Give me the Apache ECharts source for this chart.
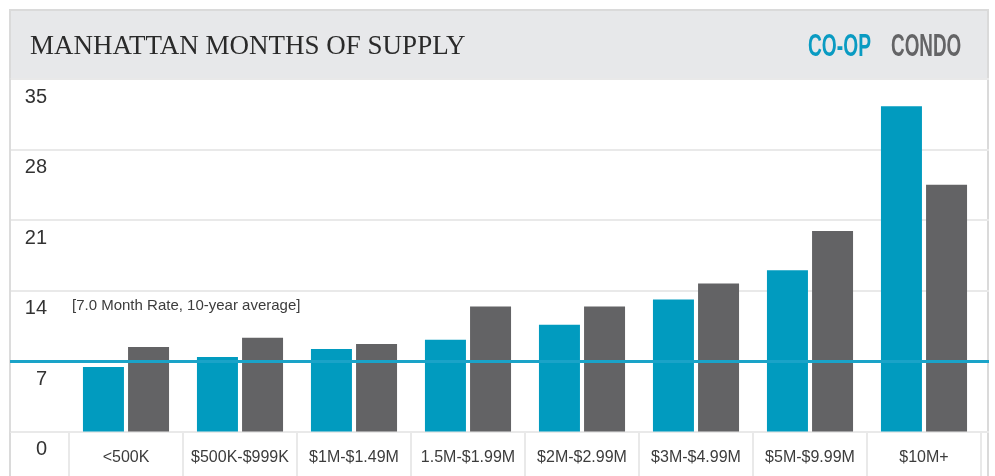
<!DOCTYPE html>
<html>
<head>
<meta charset="utf-8">
<script src="https://cdn.jsdelivr.net/npm/echarts@6/dist/echarts.min.js"></script>
<style>
  html, body { margin: 0; padding: 0; background: #ffffff; }
  #chart { width: 995px; height: 476px; }
</style>
</head>
<body>
<div id="chart"></div>
<script>
// price bands and months of supply
const PRICE_BANDS = ["<500K", "$500K-$999K", "$1M-$1.49M", "1.5M-$1.99M", "$2M-$2.99M", "$3M-$4.99M", "$5M-$9.99M", "$10M+"];
const COOP_MONTHS = [6.4, 7.4, 8.2, 9.1, 10.6, 13.1, 16.0, 32.3];
const CONDO_MONTHS = [8.4, 9.3, 8.7, 12.4, 12.4, 14.7, 19.9, 24.5];
const TEN_YEAR_AVG = 7.0;
const Y_TICKS = [0, 7, 14, 21, 28, 35];

const BLUE = "#019bbf";
const GREY = "#636365";
const LINE = "#e9e9e9";
const FONT = "'Liberation Sans', Arial, sans-serif";

const chart = echarts.init(document.getElementById("chart"));

chart.setOption({
  animation: false,
  backgroundColor: "#ffffff",
  grid: [
    // full-width grid: y labels, gridlines, average line
    { left: 10, right: 6, top: 79, bottom: 44.5 },
    // bar grid, starts right of the y labels
    { left: 69, right: 14, top: 79, bottom: 44.5 }
  ],
  xAxis: [
    { gridIndex: 0, type: "value", min: 0, max: 1, show: false },
    {
      gridIndex: 1,
      type: "category",
      data: PRICE_BANDS,
      axisLine: { show: false },
      axisTick: { show: true, length: 46, lineStyle: { color: LINE, width: 2 } },
      axisLabel: { color: "#3c3c3c", fontSize: 16, fontFamily: FONT, margin: 18, interval: 0 }
    }
  ],
  yAxis: [
    {
      gridIndex: 0,
      type: "value",
      min: Y_TICKS[0],
      max: Y_TICKS[Y_TICKS.length - 1],
      interval: 7,
      axisLine: { show: true, lineStyle: { color: "#dcdcdc", width: 2 } },
      axisTick: { show: false },
      splitLine: { show: true, lineStyle: { color: LINE, width: 2 } },
      axisLabel: {
        inside: true,
        align: "right",
        verticalAlign: "top",
        margin: 37,
        padding: [8, 0, 0, 0],
        color: "#333333",
        fontSize: 20,
        fontFamily: FONT,
        formatter: (v) => (v === 0 ? "{z|0}" : String(v)),
        rich: { z: { fontSize: 20, fontFamily: FONT, color: "#333333", padding: [0, 0, 8, 0] } }
      }
    },
    { gridIndex: 1, type: "value", min: 0, max: 35, show: false }
  ],
  graphic: [
    { type: "rect", z: -10, shape: { x: 10, y: 10, width: 979, height: 69 }, style: { fill: "#e7e8ea" } },
    { type: "rect", z: -5, shape: { x: 10, y: 10, width: 978, height: 480 }, style: { fill: null, stroke: "#dadada", lineWidth: 2 } },
    {
      type: "text", x: 30, y: 47,
      style: { text: "MANHATTAN MONTHS OF SUPPLY", fill: "#2a2a2a", fontSize: 27, fontFamily: "'Liberation Serif', 'Times New Roman', serif", textVerticalAlign: "middle" }
    },
    {
      type: "text", x: 808, y: 47, scaleX: 0.6,
      style: { text: "CO-OP", fill: "#0a9bc2", fontSize: 32, fontWeight: "bold", fontFamily: FONT, textVerticalAlign: "middle" }
    },
    {
      type: "text", x: 891, y: 47, scaleX: 0.59,
      style: { text: "CONDO", fill: "#646466", fontSize: 32, fontWeight: "bold", fontFamily: FONT, textVerticalAlign: "middle" }
    },
    {
      type: "text", x: 72, y: 306,
      style: { text: "[7.0 Month Rate, 10-year average]", fill: "#3c3c3c", fontSize: 15, fontFamily: FONT, textVerticalAlign: "middle" }
    }
  ],
  series: [
    {
      name: "avg",
      type: "line",
      xAxisIndex: 0,
      yAxisIndex: 0,
      data: [],
      z: 1,
      markLine: {
        silent: true,
        symbol: "none",
        label: { show: false },
        lineStyle: { color: "#1aa3c8", width: 3, type: "solid" },
        data: [{ yAxis: TEN_YEAR_AVG }]
      }
    },
    {
      name: "CO-OP",
      type: "bar",
      xAxisIndex: 1,
      yAxisIndex: 1,
      data: COOP_MONTHS,
      barWidth: 41,
      barGap: "10%",
      z: 3,
      itemStyle: { color: BLUE }
    },
    {
      name: "CONDO",
      type: "bar",
      xAxisIndex: 1,
      yAxisIndex: 1,
      data: CONDO_MONTHS,
      barWidth: 41,
      barGap: "10%",
      z: 3,
      itemStyle: { color: GREY }
    }
  ]
});
</script>
</body>
</html>
